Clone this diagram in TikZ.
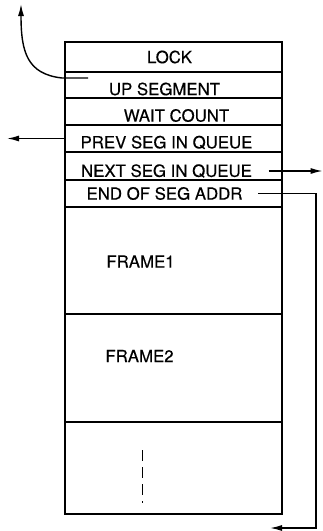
\documentclass[tikz,border=0pt]{standalone}
\usepackage{fontspec}
\setmainfont{TeX Gyre Heros}
\usetikzlibrary{arrows.meta, positioning}

\begin{document}
\begin{tikzpicture}[x=1pt, y=-1pt, line width=1.4pt,
    field/.style={draw, minimum width=217pt, inner sep=0pt, outer sep=0pt},
    lbl/.style={font=\fontsize{16.8}{19}\selectfont\addfontfeature{FakeBold=0.4}, inner sep=1pt},
    ptr/.style={-{Latex[length=12pt, width=6pt]}}]
    \useasboundingbox (0,0) rectangle (323,531);
    % Segment rows
    \node[field, minimum height=30pt, anchor=north west] (lock) at (65,42) {};
    \node[field, minimum height=26pt, below=0pt of lock] (up) {};
    \node[field, minimum height=27pt, below=0pt of up] (wait) {};
    \node[field, minimum height=27pt, below=0pt of wait] (prev) {};
    \node[field, minimum height=28pt, below=0pt of prev] (next) {};
    \node[field, minimum height=27pt, below=0pt of next] (endaddr) {};
    \node[field, minimum height=107pt, below=0pt of endaddr] (frame1) {};
    \node[field, minimum height=108pt, below=0pt of frame1] (frame2) {};
    \node[field, minimum height=92pt, below=0pt of frame2] (rest) {};
    % Labels
    \node[lbl] (locklbl) at ([xshift=-4pt]lock.center) {LOCK};
    \node[lbl] (uplbl) at ([shift={(-9pt,-4pt)}]up.center) {UP SEGMENT};
    \node[lbl] (waitlbl) at ([shift={(3pt,-4pt)}]wait.center) {WAIT COUNT};
    \node[lbl] (prevlbl) at ([shift={(-7pt,-4pt)}]prev.center) {PREV SEG IN QUEUE};
    \node[lbl] (nextlbl) at ([shift={(-7pt,-5pt)}]next.center) {NEXT SEG IN QUEUE};
    \node[lbl] (endlbl) at ([xshift=-9pt]endaddr.center) {END OF SEG ADDR};
    \node[lbl] (frame1lbl) at ([shift={(-33pt,-1pt)}]frame1.center) {FRAME1};
    \node[lbl] (frame2lbl) at ([shift={(-34pt,12pt)}]frame2.center) {FRAME2};
    \draw[line width=1.2pt, dash pattern=on 11pt off 6pt]
      ([shift={(-31pt,18pt)}]rest.center) -- ([shift={(-31pt,-35pt)}]rest.center);
    % Pointers
    \coordinate (upsrc) at ([shift={(23pt,7pt)}]up.west);
    \coordinate (uptip) at (21,4);
    \coordinate (endtip) at (270,528);
    \draw[ptr] (upsrc) -- (62,78) .. controls (27,74) and (21,52) .. (uptip);
    \draw[ptr] (prev.west) -- ++(-58,0);
    \draw[ptr] ([xshift=15pt]nextlbl.east) -- ++(54,0);
    \draw[ptr] ([xshift=14pt]endlbl.east) -| ([xshift=46pt]endtip) -- (endtip);
\end{tikzpicture}
\end{document}
